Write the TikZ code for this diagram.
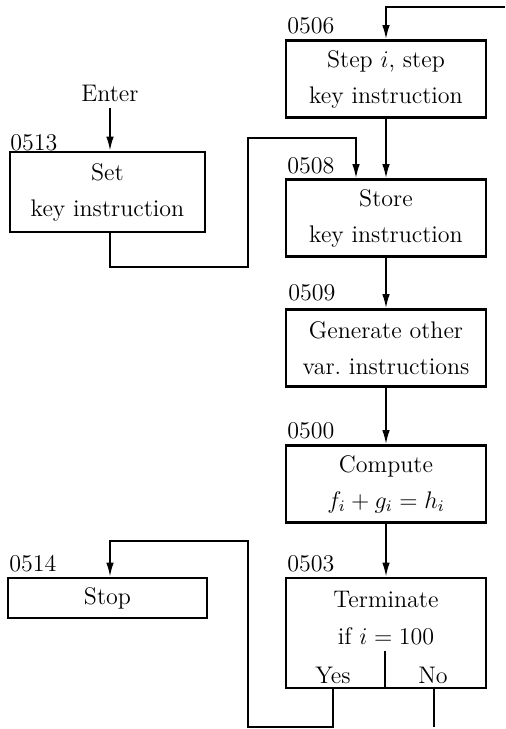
\documentclass[tikz,border=0pt]{standalone}
\usetikzlibrary{arrows.meta,calc}
\begin{document}
\begin{tikzpicture}[x=0.5pt,y=-0.5pt,
  box/.style={draw,line width=1.4pt,minimum width=100pt,minimum height=38.5pt,inner sep=0pt,align=center,font=\fontsize{12}{18}\selectfont},
  conn/.style={line width=0.85pt},
  arr/.style={conn,-{Latex[length=7pt,width=3.8pt]}},
  num/.style={font=\fontsize{12}{14}\selectfont,anchor=base west,inner sep=0pt},
  txt/.style={font=\fontsize{12}{14}\selectfont,inner sep=0pt}]
\useasboundingbox (0,0) rectangle (505,729);

% boxes
\node[box] (s506) at (386,79) {Step $i$, step\\key instruction};
\node[box] (s508) at (386,218) {Store\\key instruction};
\node[box] (s509) at (386,348) {Generate other\\var.\ instructions};
\node[box] (s500) at (386,484) {Compute\\$f_i + g_i = h_i$};
\node[box,minimum height=55pt] (s503) at (386,633) {};
\node[box,minimum width=97.5pt,minimum height=40pt] (s513) at (107.5,192) {Set\\key instruction};
\node[box,minimum width=99.5pt,minimum height=20pt] (s514) at (107.5,598) {Stop};

% texts inside the decision box
\node[txt] (t1) at (386,599) {Terminate};
\node[txt] (t2) at (386,636) {if $i = 100$};
\node[txt] (ty) at (333,675) {Yes};
\node[txt] (tn) at (433,675) {No};
\coordinate (dv) at (385,651);
\draw[conn] (dv) -- (dv |- s503.south);

% labels
\node[num] (n506) at (287,33) {0506};
\node[num] (n513) at (10,150) {0513};
\node[num] (n508) at (287,173) {0508};
\node[num] (n509) at (288,300) {0509};
\node[num] (n500) at (287,438) {0500};
\node[num] (n503) at (287,571) {0503};
\node[num] (n514) at (9,571) {0514};

\node[txt,inner sep=3pt] (enter) at (110,93) {Enter};

% connectors
\coordinate (tr) at (505,7);
\draw[arr] (tr) -| (s506.north);
\draw[arr] (s506) -- (s508);
\draw[arr] (s508) -- (s509);
\draw[arr] (s509) -- (s500);
\draw[arr] (s500) -- (s503);
\draw[arr] (enter) -- (enter |- s513.north);

\coordinate (l1) at (110,267);
\coordinate (l2) at (248,267);
\coordinate (l3) at (248,138);
\coordinate (l4) at (356,138);
\draw[arr] (s513.south -| l1) -- (l1) -- (l2) -- (l3) -- (l4) -- (l4 |- s508.north);

\coordinate (yb) at (333,727);
\coordinate (lb) at (248,727);
\coordinate (lt) at (248,541);
\coordinate (st) at (110,541);
\draw[arr] (s503.south -| yb) -- (yb) -- (lb) -- (lt) -- (st) -- (st |- s514.north);

\coordinate (nb) at (434,727);
\draw[conn] (s503.south -| nb) -- (nb);
\end{tikzpicture}
\end{document}
